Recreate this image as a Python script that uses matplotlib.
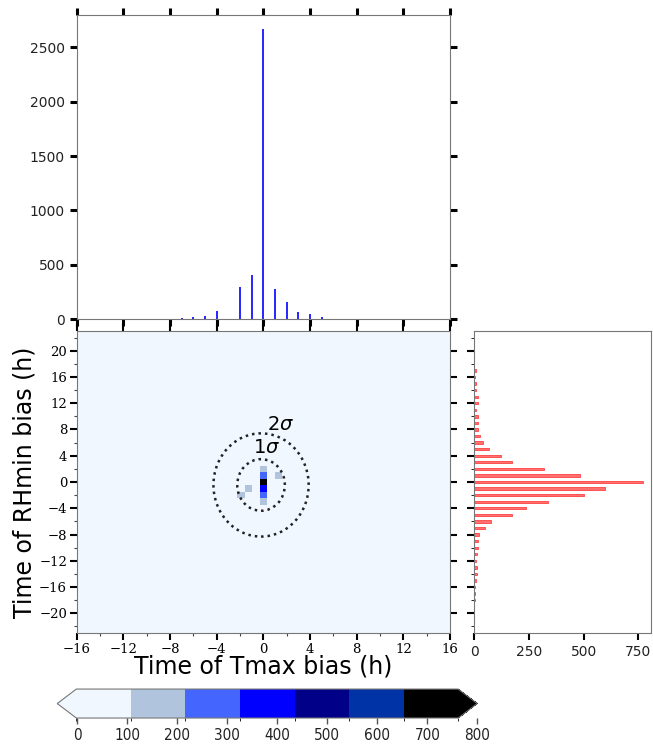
import numpy as np
import matplotlib
matplotlib.use("Agg")
import matplotlib.pyplot as plt
from matplotlib.colors import ListedColormap, BoundaryNorm
from matplotlib.patches import Ellipse

# ---- marginal counts: Tmax timing bias (top) ----
tmax_hours = list(range(-16, 17))
tmax_counts = [0, 0, 3, 3, 3, 3, 3, 3, 3, 8, 20, 30, 78, 0, 299, 406,
               2663, 276, 156, 64, 45, 20, 6, 3, 3, 3, 3, 3, 1, 0, 0, 0, 0]

# ---- marginal counts: RHmin timing bias (right) ----
rh_hours = list(range(-22, 23))
rh_counts = [0, 1, 1, 1, 2, 2, 5, 7, 12, 12, 6, 12, 18, 18, 21, 47, 76, 171,
             236, 339, 501, 600, 770, 483, 318, 171, 124, 68, 38, 26, 17, 17,
             17, 10, 17, 17, 10, 10, 5, 7, 1, 1, 1, 0, 0]

# ---- joint 2D histogram, non-empty cells (x bin centre, y, count) ----
cell_x = [0.0, 0.0, 0.0, 0.0, 0.0, 0.0, 1.28, -1.28, -1.92]
cell_y = [2, 1, 0, -1, -2, -3, 1, -1, -2]
cell_n = [150, 250, 800, 380, 250, 150, 150, 150, 150]

# ---- sigma ellipses ----
mu_x, mu_y = -0.2, -0.45
sig_x, sig_y = 2.04, 3.93

levels = np.linspace(0, 762, 8)
colors = ["#f0f7ff", "#b0c4de", "#4466ff", "#0000ff", "#000088", "#0033a6", "#000000"]

# build grid
xbw = 0.64
xedges = np.arange(-16.32, 16.33, xbw)
yedges = np.arange(-23.5, 23.6, 1.0)
xc = 0.5 * (xedges[:-1] + xedges[1:])
yc = 0.5 * (yedges[:-1] + yedges[1:])
H = np.zeros((len(yc), len(xc)))
for cx, cy, n in zip(cell_x, cell_y, cell_n):
    i = np.argmin(np.abs(yc - cy))
    j = np.argmin(np.abs(xc - cx))
    H[i, j] = n

cmap = ListedColormap(colors)
cmap.set_under(colors[0])
cmap.set_over("#000000")
norm = BoundaryNorm(levels, cmap.N)

fig = plt.figure(figsize=(6.53, 7.45), dpi=100)
ax_top = fig.add_axes([0.1175, 0.5714, 0.5717, 0.4085])
ax_main = fig.add_axes([0.1175, 0.1503, 0.5717, 0.4054])
ax_right = fig.add_axes([0.7263, 0.1503, 0.2707, 0.4054], sharey=ax_main)
cax = fig.add_axes([0.0877, 0.0362, 0.6432, 0.0389])

spine_c = "#777777"

# ---- top histogram ----
ax_top.bar(tmax_hours, tmax_counts, width=0.17, color="#2b2bff", lw=0)
ax_top.set_xlim(-16, 16)
ax_top.set_xticks(np.arange(-16, 17, 4))
ax_top.set_yticks([0, 500, 1000, 1500, 2000, 2500])
ax_top.tick_params(axis="both", which="major", direction="out", length=5, width=2.2,
                   color="black", top=True, right=True, labelbottom=False, labelsize=10,
                   labelcolor="#222222")
for s in ax_top.spines.values():
    s.set_color(spine_c)

# ---- joint heatmap ----
ax_main.set_facecolor(colors[0])
pm = ax_main.pcolormesh(xedges, yedges, H, cmap=cmap, norm=norm)
for k in (1, 2):
    ax_main.add_patch(Ellipse((mu_x, mu_y), 2 * k * sig_x, 2 * k * sig_y, fill=False,
                              ec="#222222", ls=(0, (1, 1.6)), lw=1.8))
ax_main.text(1.5, 8.7, r"$2\sigma$", fontsize=14, ha="center", va="center")
ax_main.text(0.26, 5.3, r"$1\sigma$", fontsize=14, ha="center", va="center")
ax_main.set_xlim(-16, 16)
ax_main.set_ylim(-23, 23)
ax_main.set_xticks(np.arange(-16, 17, 4))
ax_main.set_xticks(np.arange(-16, 17, 2), minor=True)
ax_main.set_yticks(np.arange(-20, 21, 4))
ax_main.set_yticks(np.arange(-22, 23, 2), minor=True)
ax_main.tick_params(axis="both", which="major", direction="out", length=5, width=1.5,
                    color="black", right=True, top=True, labelsize=9.5, pad=2)
ax_main.tick_params(axis="both", which="minor", direction="out", length=2.5, width=0.8,
                    color="#444444")
for lab in ax_main.get_xticklabels() + ax_main.get_yticklabels():
    lab.set_family("DejaVu Serif")
ax_main.set_xlabel("Time of Tmax bias (h)", fontsize=17, labelpad=-1)
ax_main.set_ylabel("Time of RHmin bias (h)", fontsize=17, labelpad=2)
for s in ax_main.spines.values():
    s.set_color(spine_c)

# ---- right histogram ----
ax_right.barh(rh_hours, rh_counts, height=0.35, color="#ff7070", edgecolor="#ff2a2a", lw=0.5)
ax_right.set_xticks([0, 250, 500, 750])
ax_right.tick_params(axis="both", direction="out", length=5, width=1.5, color="black",
                     labelleft=False, labelsize=10, labelcolor="#222222")
for s in ax_right.spines.values():
    s.set_color(spine_c)

# ---- colorbar ----
cb = fig.colorbar(pm, cax=cax, orientation="horizontal", extend="both")
cb.set_ticks([])
cb.outline.set_edgecolor(spine_c)
tax = fig.add_axes([0.1184, 0.0362, 0.6126, 0.0389])
tax.set_xlim(0, 800)
tax.set_xticks(np.arange(0, 801, 100))
tax.set_yticks([])
tax.patch.set_visible(False)
for s in tax.spines.values():
    s.set_visible(False)
tax.tick_params(axis="x", direction="out", length=4, width=1, color="#555555",
                labelsize=11, labelcolor="#222222")
for lab in tax.get_xticklabels():
    lab.set_family(["Liberation Sans Narrow", "DejaVu Sans"])
    lab.set_stretch("condensed")

fig.savefig("out.png", dpi=100)
